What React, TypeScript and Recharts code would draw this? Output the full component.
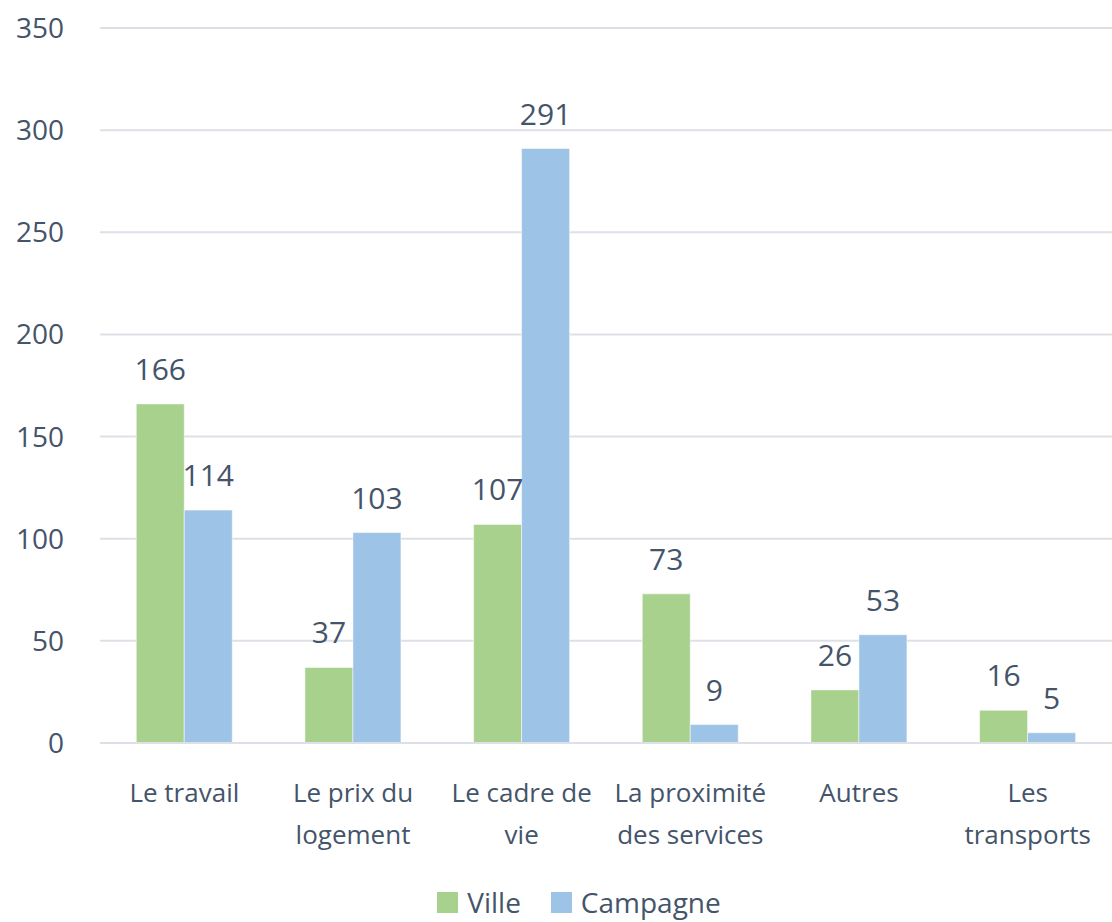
import React from "react";
import { BarChart, Bar, XAxis, YAxis, CartesianGrid, Legend, LabelList } from "recharts";

const categories = ["Le travail", "Le prix du\nlogement", "Le cadre de\nvie", "La proximité\ndes services", "Autres", "Les\ntransports"];
const ville = [166, 37, 107, 73, 26, 16];
const campagne = [114, 103, 291, 9, 53, 5];
const yTicks = [0, 50, 100, 150, 200, 250, 300, 350];
const seriesNames = ["Ville", "Campagne"];
const seriesColors = ["#a9d18e", "#9dc3e6"];

const data = categories.map((c, i) => ({ name: c, Ville: ville[i], Campagne: campagne[i] }));

const TEXT = "#44546a";
const FONT = "'Open Sans', sans-serif";

const CatTick = (props: any) => {
  const { x, y, payload } = props;
  const lines = String(payload.value).split("\n");
  return (
    <g transform={`translate(${x},${y})`}>
      {lines.map((l: string, i: number) => (
        <text key={i} x={0} y={51 + i * 42} textAnchor="middle" fill={TEXT} fontSize={26} fontFamily={FONT}>
          {l}
        </text>
      ))}
    </g>
  );
};

const LegendContent = () => (
  <div style={{ display: "flex", justifyContent: "center", alignItems: "center", fontFamily: FONT, fontSize: 28, color: TEXT, paddingLeft: 46 }}>
    {seriesNames.map((n, i) => (
      <div key={n} style={{ display: "flex", alignItems: "center", marginRight: i === 0 ? 30 : 0 }}>
        <span style={{ display: "inline-block", width: 21, height: 21, background: seriesColors[i], marginRight: 9 }} />
        <span>{n}</span>
      </div>
    ))}
  </div>
);

export default function App() {
  return (
    <div style={{ position: "absolute", left: 0, top: 0, width: 1112, height: 922, background: "#fff" }}>
      <BarChart
        width={1112}
        height={922}
        data={data}
        margin={{ top: 28, right: 0, bottom: 0, left: 0 }}
        barCategoryGap="21.5%"
        barGap={0}
      >
        <CartesianGrid vertical={false} stroke="#dde1e7" strokeWidth={2} />
        <XAxis
          dataKey="name"
          interval={0}
          tick={<CatTick />}
          tickLine={false}
          axisLine={{ stroke: "#dde1e7", strokeWidth: 2 }}
          height={115}
        />
        <YAxis
          domain={[0, 350]}
          ticks={yTicks}
          width={100}
          axisLine={false}
          tickLine={false}
          tickMargin={30}
          tick={{ fill: TEXT, fontSize: 28, fontFamily: FONT }}
        />
        <Legend
          verticalAlign="bottom"
          height={64}
          content={<LegendContent />}
          wrapperStyle={{ top: 883, left: 0, width: 1112 }}
        />
        <Bar dataKey="Ville" fill={seriesColors[0]} stroke="#ffffff" strokeOpacity={0.5} isAnimationActive={false}>
          <LabelList dataKey="Ville" position="top" offset={24} fill={TEXT} fontSize={30} fontFamily={FONT} />
        </Bar>
        <Bar dataKey="Campagne" fill={seriesColors[1]} stroke="#ffffff" strokeOpacity={0.5} isAnimationActive={false}>
          <LabelList dataKey="Campagne" position="top" offset={24} fill={TEXT} fontSize={30} fontFamily={FONT} />
        </Bar>
      </BarChart>
    </div>
  );
}
